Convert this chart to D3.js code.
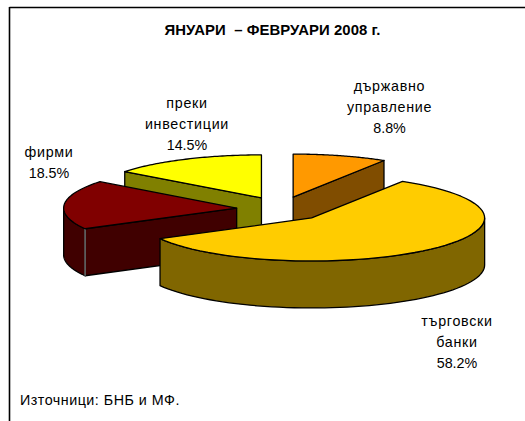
<!DOCTYPE html>
<html>
<head>
<meta charset="utf-8">
<style>
html,body{margin:0;padding:0;background:#fff;overflow:hidden}
svg{display:block}
text{font-family:"Liberation Sans",Arial,sans-serif;fill:#000}
</style>
<script src="https://cdn.jsdelivr.net/npm/d3@7"></script>
</head>
<body>
<svg id="chart" width="525" height="421"></svg>
<script>
const title = "ЯНУАРИ  – ФЕВРУАРИ 2008 г.";
const source = "Източници: БНБ и МФ.";
const categories = ["държавно управление", "търговски банки", "фирми", "преки инвестиции"];
const labelLines = [["държавно", "управление"], ["търговски", "банки"], ["фирми"], ["преки", "инвестиции"]];
const values = [8.8, 58.2, 18.5, 14.5];
const topColors = ["#ff9900", "#ffcc00", "#800000", "#ffff00"];
const sideColors = ["#804d00", "#806600", "#400000", "#808000"];
const paintOrder = [0, 3, 2, 1];

// layout (not data)
const W = 525, H = 421;
const centre = {x: 281, y: 209}, rx = 173, ry = 43, depth = 47, explodeX = 0.257, explodeY = 0.288;
const labelPos = [{x: 389.5, y: 91}, {x: 457, y: 326}, {x: 49, y: 157}, {x: 187, y: 108}];
const lineGap = 21;

const svg = d3.select("#chart");
const xs = d3.scaleLinear().domain([-1, 1]).range([-rx, rx]);
const ys = d3.scaleLinear().domain([-1, 1]).range([-ry, ry]);
const pie = d3.pie().sort(null).value(d => d);
const arcs = pie(values);
const line = d3.line().x(d => d[0]).y(d => d[1]);

// frame: only the top and left rules are in the picture
svg.append("line").attr("x1", 9.5).attr("x2", W).attr("y1", 7.5).attr("y2", 7.5)
  .attr("stroke", "#000").attr("stroke-width", 1.6);
svg.append("line").attr("x1", 9.5).attr("x2", 9.5).attr("y1", 7).attr("y2", H)
  .attr("stroke", "#000").attr("stroke-width", 1.6);

const pt = (c, a, dz = 0) => [c.x + xs(Math.sin(a)), c.y - ys(Math.cos(a)) + dz];
const sampled = (a0, a1) => d3.range(0, 61).map(i => a0 + (a1 - a0) * i / 60);
const eps = 1e-6;

paintOrder.forEach(i => {
  const d = arcs[i];
  const mid = (d.startAngle + d.endAngle) / 2;
  const c = {x: centre.x + xs(Math.sin(mid)) * explodeX, y: centre.y - ys(Math.cos(mid)) * explodeY};
  const g = svg.append("g");
  const side = sideColors[i];
  const face = pts => g.append("path").attr("d", line(pts) + "Z")
    .attr("fill", side).attr("stroke", "#000").attr("stroke-width", 1.3).attr("stroke-linejoin", "round");

  // a cut face shows only when the wedge lies above its edge
  const visibleCuts = [];
  if (d.startAngle > Math.PI + eps && d.startAngle < 2 * Math.PI - eps) visibleCuts.push(d.startAngle);
  if (d.endAngle > eps && d.endAngle < Math.PI - eps) visibleCuts.push(d.endAngle);
  visibleCuts.forEach(a => {
    const p = pt(c, a);
    face([[c.x, c.y], p, [p[0], p[1] + depth], [c.x, c.y + depth]]);
  });

  // outer rim, front half only
  const r0 = Math.max(d.startAngle, Math.PI / 2), r1 = Math.min(d.endAngle, Math.PI * 1.5);
  if (r1 > r0) {
    const a = sampled(r0, r1);
    face(a.map(t => pt(c, t)).concat(a.slice().reverse().map(t => pt(c, t, depth))));
    // light seam where the cut face meets the rim
    if (visibleCuts.includes(d.startAngle)) {
      const p = pt(c, d.startAngle);
      g.append("line").attr("x1", p[0]).attr("x2", p[0]).attr("y1", p[1]).attr("y2", p[1] + depth)
        .attr("stroke", "#8a8a8a").attr("stroke-width", 1.2);
    }
  }

  // top
  g.append("path")
    .attr("d", line([[c.x, c.y]].concat(sampled(d.startAngle, d.endAngle).map(t => pt(c, t)))) + "Z")
    .attr("fill", topColors[i]).attr("stroke", "#000").attr("stroke-width", 1.3).attr("stroke-linejoin", "round");
});

// labels
labelLines.forEach((lines, i) => {
  const t = svg.append("text").attr("text-anchor", "middle").attr("font-size", 14.3);
  lines.forEach((s, k) => {
    t.append("tspan").attr("x", labelPos[i].x).attr("y", labelPos[i].y + k * lineGap)
      .attr("letter-spacing", 0.7).text(s);
  });
  t.append("tspan").attr("x", labelPos[i].x).attr("y", labelPos[i].y + lines.length * lineGap)
    .text(d3.format(".1f")(values[i]) + "%");
});

svg.append("text").attr("x", 272.5).attr("y", 35).attr("text-anchor", "middle")
  .attr("font-size", 14.9).attr("font-weight", "bold").attr("letter-spacing", 0.05)
  .style("white-space", "pre").text(title);
svg.append("text").attr("x", 20).attr("y", 405).attr("font-size", 14.3).attr("letter-spacing", 0.5).text(source);
</script>
</body>
</html>
